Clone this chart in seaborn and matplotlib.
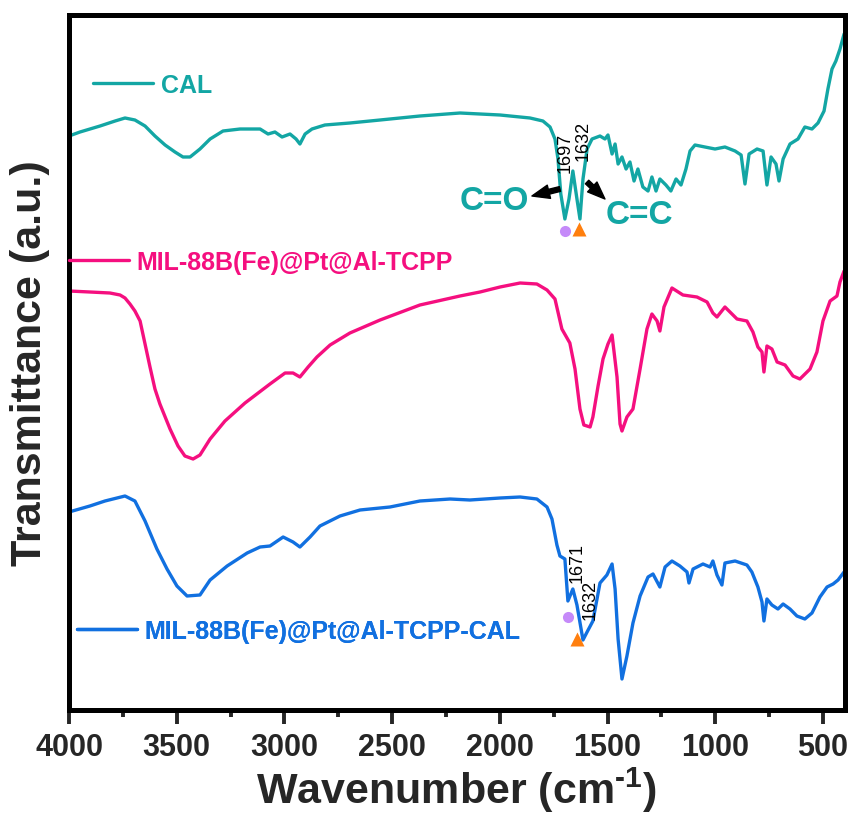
import numpy as np
import pandas as pd
import matplotlib
matplotlib.use("Agg")
import matplotlib.pyplot as plt
from matplotlib.lines import Line2D
from matplotlib.ticker import MultipleLocator
import seaborn as sns

# ---------------- data (wavenumber in cm-1, transmittance in a.u., offset stacked) -------------
cal_wn = [4000, 3949, 3856, 3786, 3740, 3694, 3647, 3601, 3554, 3508, 3471, 3438, 3392, 3345,
          3285, 3206, 3113, 3076, 3044, 3011, 2974, 2946, 2928, 2904, 2872, 2812, 2696, 2556,
          2371, 2185, 1999, 1860, 1800, 1767, 1744, 1730, 1717, 1698, 1679, 1661, 1642, 1628,
          1614, 1595, 1572, 1535, 1512, 1498, 1479, 1465, 1451, 1433, 1414, 1396, 1377, 1359,
          1336, 1312, 1294, 1275, 1257, 1229, 1206, 1182, 1159, 1136, 1117, 1094, 1048, 1001,
          955, 908, 880, 862, 843, 806, 778, 760, 741, 718, 704, 685, 653, 616, 584, 551, 523,
          495, 477, 458, 440, 421, 402]
cal_t = [574, 578, 584, 589, 592, 590, 584, 574, 565, 558, 553, 553, 561, 571,
         579, 581, 581, 576, 578, 573, 576, 571, 566, 576, 581, 585, 587, 590,
         594, 597, 595, 592, 589, 583, 571, 551, 516, 491, 511, 539, 511, 491,
         531, 561, 571, 574, 571, 575, 556, 566, 546, 553, 541, 548, 529, 541,
         523, 519, 533, 519, 531, 525, 519, 531, 525, 541, 559, 565, 563, 561,
         563, 559, 555, 526, 556, 561, 559, 525, 553, 546, 529, 551, 566, 571, 583, 581, 587,
         599, 621, 641, 649, 661, 676]

mil_wn = [4000, 3903, 3810, 3763, 3740, 3717, 3694, 3670, 3647, 3624, 3601, 3578, 3531, 3494,
          3462, 3424, 3392, 3345, 3276, 3183, 3067, 2997, 2960, 2928, 2890, 2849, 2788, 2696,
          2556, 2371, 2185, 2092, 1999, 1906, 1828, 1781, 1744, 1712, 1675, 1651, 1628, 1610,
          1581, 1568, 1544, 1521, 1498, 1479, 1456, 1442, 1433, 1410, 1382, 1349, 1317, 1294,
          1270, 1257, 1238, 1201, 1150, 1085, 1038, 1011, 992, 955, 899, 853, 825, 802, 783,
          774, 760, 737, 713, 676, 639, 607, 560, 528, 500, 467, 435, 421, 402]
mil_t = [419, 418, 417, 415, 412, 406, 399, 389, 366, 343, 321, 306, 281, 264,
         254, 251, 255, 271, 289, 307, 326, 337, 337, 333, 343, 353, 365, 377,
         390, 405, 414, 418, 423, 427, 426, 420, 411, 381, 367, 341, 301, 285,
         283, 293, 324, 351, 366, 375, 333, 286, 279, 293, 301, 341, 381, 396,
         389, 379, 403, 422, 415, 413, 408, 397, 393, 403, 391, 389, 378, 363, 358,
         338, 364, 361, 348, 345, 334, 331, 341, 358, 389, 409, 414, 428, 439]

mix_wn = [4000, 3903, 3833, 3740, 3694, 3647, 3592, 3545, 3499, 3452, 3392, 3345, 3266, 3173,
          3113, 3067, 3006, 2960, 2928, 2881, 2835, 2742, 2649, 2510, 2371, 2231, 2139, 1999,
          1906, 1828, 1781, 1758, 1735, 1721, 1698, 1684, 1661, 1642, 1614, 1595, 1568, 1535,
          1503, 1479, 1465, 1451, 1433, 1410, 1382, 1349, 1312, 1289, 1257, 1233, 1201, 1164,
          1131, 1122, 1103, 1057, 1024, 1011, 992, 969, 955, 908, 853, 830, 802, 783, 774, 760,
          737, 709, 685, 653, 621, 584, 551, 514, 481, 453, 430, 402]
mix_t = [198, 204, 209, 214, 209, 189, 161, 141, 124, 114, 115, 130, 144, 157,
         163, 164, 173, 168, 163, 173, 184, 194, 200, 203, 209, 211, 210, 212,
         213, 211, 203, 191, 165, 154, 151, 109, 121, 105, 70, 78, 89, 127,
         135, 146, 121, 71, 31, 54, 87, 114, 133, 136, 123, 143, 149, 144,
         138, 127, 141, 146, 143, 149, 135, 125, 147, 149, 145, 138, 123, 108, 89, 111,
         105, 101, 106, 101, 94, 91, 97, 113, 123, 126, 130, 138]

series_names = ["CAL", "MIL-88B(Fe)@Pt@Al-TCPP", "MIL-88B(Fe)@Pt@Al-TCPP-CAL"]
series_colors = ["#13a6a4", "#f50f7f", "#1170e0"]
xticks = [4000, 3500, 3000, 2500, 2000, 1500, 1000, 500]

# peak markers / labels
cal_peaks_wn = [1697, 1632]
mix_peaks_wn = [1671, 1632]

# ---------------- style ----------------
sns.set_style("ticks")
plt.rcParams['font.family'] = ['Liberation Sans', 'DejaVu Sans']
plt.rcParams['font.weight'] = 'bold'
plt.rcParams['mathtext.fontset'] = 'custom'
plt.rcParams['mathtext.rm'] = 'Liberation Sans:bold'
plt.rcParams['mathtext.bf'] = 'Liberation Sans:bold'

fig = plt.figure(figsize=(8.55, 8.2), dpi=100)
ax = fig.add_axes([69 / 855, (820 - 711) / 820, 775.5 / 855, 695.5 / 820])

frames = [pd.DataFrame({"wn": w, "t": t, "s": n})
          for w, t, n in zip([cal_wn, mil_wn, mix_wn], [cal_t, mil_t, mix_t], series_names)]
df = pd.concat(frames, ignore_index=True)
for name, col in zip(series_names, series_colors):
    sub = df[df["s"] == name]
    sns.lineplot(data=sub, x="wn", y="t", color=col, lw=2.4, sort=False,
                 estimator=None, ax=ax, legend=False)

ax.set_xlim(4000, 400)
ax.set_ylim(0, 695.5)
ax.set_yticks([])
ax.set_xticks(xticks)
ax.set_xticklabels([str(v) for v in xticks])
ax.xaxis.set_minor_locator(MultipleLocator(250))
ax.tick_params(axis='x', which='major', length=10, width=2.8, direction='out',
               labelsize=22, pad=6)
ax.tick_params(axis='x', which='minor', length=5, width=2.8, direction='out')
for lab in ax.get_xticklabels():
    lab.set_fontweight('bold')
for sp in ax.spines.values():
    sp.set_visible(True)
    sp.set_linewidth(3.6)
    sp.set_color('black')

ax.set_xlabel(r"Wavenumber (cm$^{\text{-1}}$)", fontsize=31, fontweight='bold', labelpad=2)
ax.set_ylabel("Transmittance (a.u.)", fontsize=31, fontweight='bold', labelpad=14)

# ---------------- legend-like labels ----------------
leg_pos = [(0.031, 0.899), (0.0, 0.644), (0.0103, 0.1136)]
for name, col, (fx, fy) in zip(series_names, series_colors, leg_pos):
    h = Line2D([], [], color=col, lw=2.4)
    leg = ax.legend([h], [name], loc='center left', bbox_to_anchor=(fx, fy),
                    frameon=False, handlelength=2.4, handletextpad=0.3,
                    borderpad=0, borderaxespad=0,
                    prop={'family': 'Liberation Sans', 'weight': 'bold', 'size': 18},
                    labelcolor=col)
    ax.add_artist(leg)

# ---------------- annotations ----------------
ax.text(1698, 558, "1697", rotation=90, ha='center', va='center', fontsize=13,
        fontweight='normal', color='black')
ax.text(1614, 570, "1632", rotation=90, ha='center', va='center', fontsize=13,
        fontweight='normal', color='black')
ax.text(2027, 509, "C=O", ha='center', va='center', fontsize=24, fontweight='bold',
        color=series_colors[0])
ax.text(1354, 496, "C=C", ha='center', va='center', fontsize=24, fontweight='bold',
        color=series_colors[0])
ax.annotate("", xy=(1851, 514), xytext=(1721, 521),
            arrowprops=dict(arrowstyle="simple,head_length=0.9,head_width=0.7,tail_width=0.25",
                            color='black', shrinkA=0, shrinkB=0, mutation_scale=14))
ax.annotate("", xy=(1512, 511), xytext=(1595, 528),
            arrowprops=dict(arrowstyle="simple,head_length=0.9,head_width=0.7,tail_width=0.25",
                            color='black', shrinkA=0, shrinkB=0, mutation_scale=14))
ax.plot([cal_peaks_wn[0]], [479], 'o', color='#c58af9', ms=8, mec='none')
ax.plot([cal_peaks_wn[1]], [481], '^', color='#ff7f0e', ms=10, mec='none')

ax.text(1642, 148, "1671", rotation=90, ha='center', va='center', fontsize=13,
        fontweight='normal', color='black')
ax.text(1581, 111, "1632", rotation=90, ha='center', va='center', fontsize=13,
        fontweight='normal', color='black')
ax.plot([1684], [93], 'o', color='#c58af9', ms=8, mec='none')
ax.plot([1642], [71], '^', color='#ff7f0e', ms=10, mec='none')

fig.savefig("out.png", dpi=100)
